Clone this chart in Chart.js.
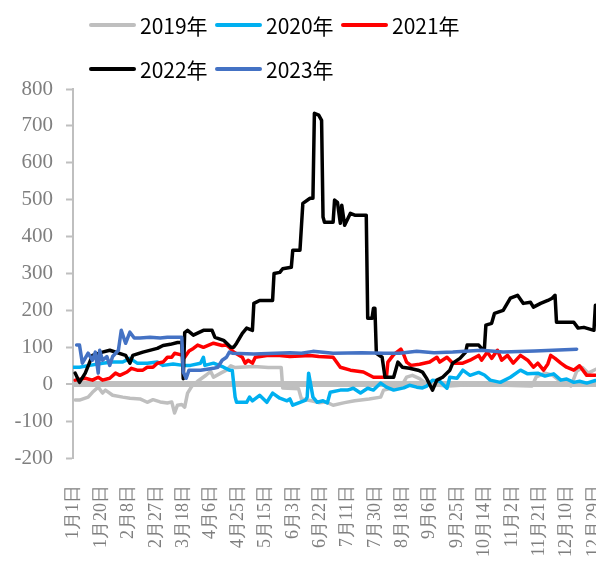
<!DOCTYPE html>
<html>
<head>
<meta charset="utf-8">
<script src="https://cdn.jsdelivr.net/npm/chart.js@4"></script>
<style>
  html, body { margin: 0; padding: 0; background: #fff; overflow: hidden; }
  #wrap { position: relative; width: 596px; height: 563px; overflow: hidden; }
  #chart { position: absolute; left: 0; top: 0; }
  #legend { position: absolute; left: 0; top: 0; width: 596px; height: 90px;
    font-family: "Noto Sans CJK SC", sans-serif; font-size: 21px; color: #000; }
  .item { position: absolute; height: 30px; line-height: 30px; display: flex; align-items: center; white-space: nowrap; }
  .item i { display: inline-block; width: 47px; height: 4px; border-radius: 2px; margin-right: 4px; }
</style>
</head>
<body>
<div id="wrap">
  <canvas id="chart" width="600" height="563"></canvas>
  <div id="legend"></div>
</div>
<script>
const years = ['2019年', '2020年', '2021年', '2022年', '2023年'];
const colors = ['#bfbfbf', '#00b0f0', '#ff0000', '#000000', '#4472c4'];
const tickLabels = ['1月1日', '1月20日', '2月8日', '2月27日', '3月18日', '4月6日', '4月25日', '5月15日', '6月3日', '6月22日',
  '7月11日', '7月30日', '8月18日', '9月6日', '9月25日', '10月14日', '11月2日', '11月21日', '12月10日', '12月29日'];

// [day of year, value]
const s2019 = [[1,-43],[4,-43],[10,-35],[13,-22],[17,-8],[20,-24],[22,-16],[27,-30],[34,-35],[39,-38],[46,-40],[51,-49],[55,-42],[60,-48],[65,-51],[68,-48],[70,-78],[72,-57],[75,-55],[77,-62],[79,-24],[82,-5],[86,8],[92,25],[95,35],[97,19],[102,30],[106,38],[109,50],[112,45],[125,48],[135,45],[144,45],[145,-10],[156,-12],[158,-40],[165,-45],[170,-50],[175,-48],[180,-57],[188,-50],[195,-45],[205,-40],[213,-35],[215,-16],[220,-12],[227,-8],[231,19],[235,24],[240,15],[245,0],[260,-5],[280,0],[300,-3],[318,-5],[321,20],[327,30],[332,25],[337,10],[345,-5],[349,35],[353,45],[357,30],[362,40]];
const s2020 = [[0,46],[4,46],[11,51],[20,57],[27,60],[34,60],[39,70],[44,57],[51,57],[58,60],[62,51],[69,55],[76,51],[81,51],[88,57],[90,73],[91,51],[97,57],[104,46],[108,38],[110,38],[112,-35],[113,-49],[120,-49],[122,-35],[124,-45],[129,-30],[134,-49],[138,-24],[143,-38],[148,-45],[150,-40],[152,-57],[157,-49],[161,-43],[162,-35],[163,30],[166,-35],[169,-49],[173,-45],[176,-51],[178,-22],[185,-16],[190,-16],[194,-11],[199,-24],[204,-11],[208,-16],[213,3],[217,-8],[222,-16],[229,-10],[233,-3],[238,-8],[242,-10],[245,-5],[249,11],[254,8],[259,-11],[261,19],[266,16],[270,38],[275,24],[281,32],[285,25],[289,11],[296,5],[303,19],[310,38],[315,28],[322,30],[327,22],[333,28],[338,11],[342,14],[347,5],[351,8],[356,3],[362,10]];
const s2021 = [[1,11],[8,16],[13,11],[17,19],[20,11],[25,16],[29,30],[32,24],[37,33],[40,43],[44,38],[48,38],[51,46],[55,46],[58,57],[62,60],[65,73],[68,73],[70,84],[76,78],[77,73],[80,90],[83,97],[86,106],[90,100],[97,111],[103,105],[106,106],[108,100],[111,87],[117,73],[119,57],[121,65],[124,57],[126,73],[134,78],[143,78],[150,75],[164,78],[170,75],[180,73],[185,46],[192,38],[201,33],[208,19],[217,19],[218,60],[222,80],[227,95],[229,80],[231,60],[234,51],[240,54],[247,60],[252,73],[254,60],[259,73],[263,57],[270,57],[275,65],[281,78],[283,65],[287,87],[290,70],[294,92],[297,65],[301,78],[305,57],[310,78],[315,65],[319,46],[322,57],[326,38],[329,55],[331,78],[334,70],[338,57],[342,46],[347,38],[351,50],[356,24],[362,24]];
const s2022 = [[1,30],[4,5],[8,30],[13,78],[20,87],[25,92],[36,78],[39,57],[41,78],[48,87],[58,97],[62,105],[67,108],[72,113],[75,113],[76,15],[77,140],[79,146],[83,133],[90,146],[96,146],[98,127],[104,119],[109,100],[111,100],[113,111],[117,138],[120,152],[124,146],[125,219],[129,227],[138,227],[139,300],[143,303],[145,313],[151,317],[152,363],[157,363],[159,490],[164,504],[166,504],[167,734],[170,729],[172,715],[173,453],[174,439],[180,439],[181,499],[183,493],[185,436],[186,485],[188,431],[192,463],[195,458],[203,458],[204,179],[207,179],[208,206],[209,206],[210,84],[214,73],[216,19],[222,19],[225,60],[228,46],[233,43],[239,38],[242,33],[245,15],[249,-16],[252,11],[256,19],[261,38],[263,57],[268,70],[272,87],[273,106],[281,106],[283,97],[285,97],[286,160],[290,165],[292,192],[298,200],[303,233],[308,241],[312,219],[317,222],[319,209],[324,219],[329,227],[332,233],[334,241],[335,168],[347,168],[350,152],[354,154],[361,146],[362,214]];
const s2023 = [[2,106],[4,106],[6,57],[10,84],[13,65],[15,87],[17,30],[18,92],[20,65],[23,75],[25,51],[27,75],[31,92],[33,146],[36,111],[39,141],[42,125],[46,125],[53,127],[60,125],[65,127],[75,127],[76,33],[78,16],[80,38],[88,38],[97,43],[100,46],[103,65],[106,73],[108,87],[110,84],[125,82],[140,84],[150,85],[158,84],[166,89],[180,84],[200,85],[215,84],[226,84],[238,89],[250,85],[263,87],[283,92],[298,87],[320,90],[349,95]];

const series = [s2019, s2020, s2021, s2022, s2023];

const chart = new Chart(document.getElementById('chart'), {
  type: 'line',
  data: {
    datasets: series.map((s, i) => ({
      label: years[i],
      data: s.map(([x, y]) => ({ x, y })),
      borderColor: colors[i],
      borderWidth: 3.5,
      pointRadius: 0,
      tension: 0,
      borderJoinStyle: 'round',
      borderCapStyle: 'round',
      order: 5 - i,
    })),
  },
  options: {
    responsive: false,
    animation: false,
    layout: { padding: { top: 89, right: 1, left: 0, bottom: 0 } },
    plugins: { legend: { display: false }, tooltip: { enabled: false } },
    scales: {
      x: {
        type: 'linear',
        min: -0.5,
        max: 364.5,
        grid: { display: false },
        border: { display: false },
        afterBuildTicks: (scale) => {
          scale.ticks = tickLabels.map((_, i) => ({ value: i * 19 }));
        },
        afterFit: (scale) => {
          scale.height = 105;
          scale.paddingLeft = 0;
          scale.paddingRight = 0;
        },
        ticks: {
          autoSkip: false,
          minRotation: 90,
          maxRotation: 90,
          padding: 19,
          color: '#7f7f7f',
          font: { family: "'Liberation Serif', serif", size: 18 },
          callback: (v) => tickLabels[Math.round(v / 19)],
        },
      },
      y: {
        min: -200,
        max: 800,
        afterFit: (scale) => {
          scale.width = 73;
          scale.paddingTop = 0;
          scale.paddingBottom = 0;
        },
        border: { color: '#bfbfbf', width: 2 },
        grid: {
          color: (ctx) => (ctx.tick && ctx.tick.value === 0 ? '#bfbfbf' : 'rgba(0,0,0,0)'),
          lineWidth: (ctx) => (ctx.tick && ctx.tick.value === 0 ? 6 : 1),
          tickColor: '#bfbfbf',
          tickWidth: 2,
          tickLength: 7,
        },
        ticks: {
          stepSize: 100,
          padding: 13,
          color: '#7f7f7f',
          font: { family: "'Liberation Serif', serif", size: 21 },
        },
      },
    },
  },
});

// legend in two rows, as in the source
const legend = document.getElementById('legend');
chart.data.datasets.forEach((ds, i) => {
  const item = document.createElement('div');
  item.className = 'item';
  item.style.left = (89 + (i % 3) * 126) + 'px';
  item.style.top = (i < 3 ? 10 : 54) + 'px';
  item.innerHTML = `<i style="background:${ds.borderColor}"></i><span>${ds.label}</span>`;
  legend.appendChild(item);
});
</script>
</body>
</html>
